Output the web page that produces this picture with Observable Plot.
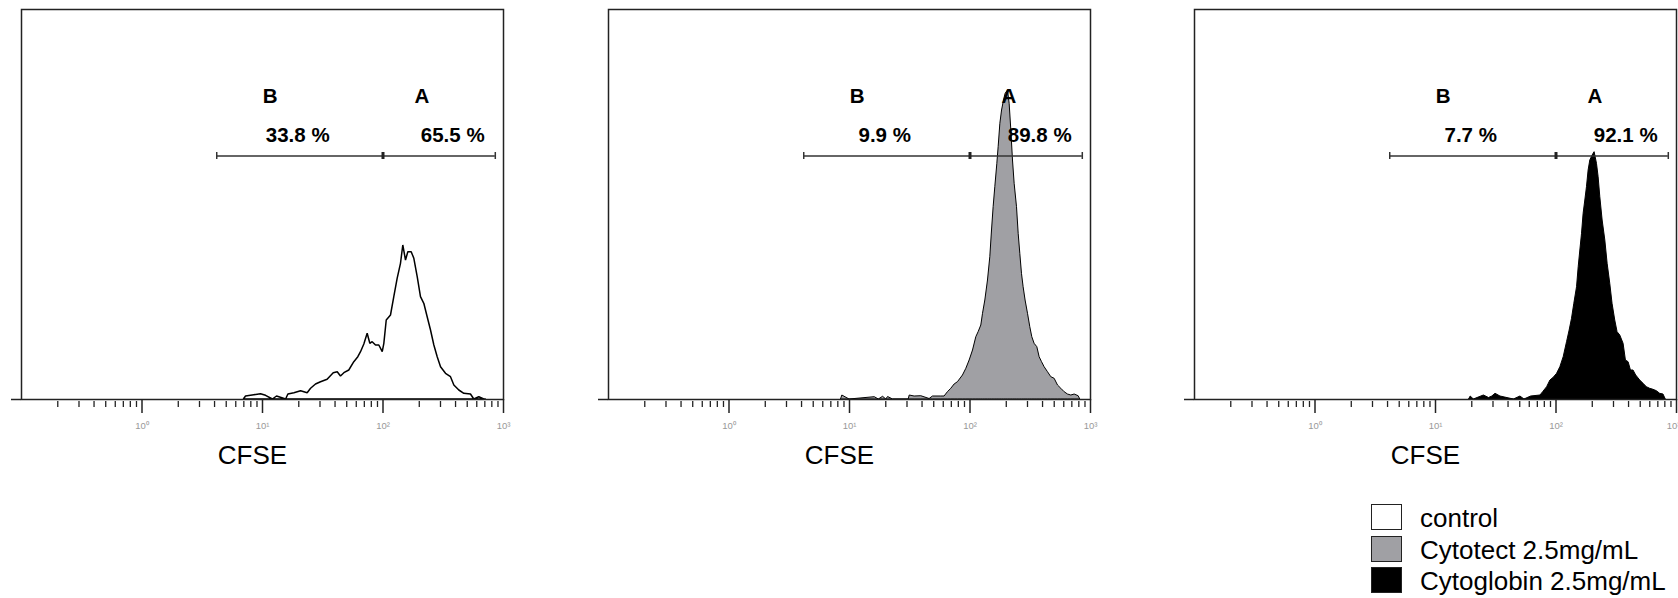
<!DOCTYPE html>
<html>
<head>
<meta charset="utf-8">
<script src="https://cdn.jsdelivr.net/npm/d3@7"></script>
<script src="https://cdn.jsdelivr.net/npm/@observablehq/plot@0.6"></script>
<style>
  html, body { margin: 0; padding: 0; background: #fff; overflow: hidden; }
  body { font-family: "Liberation Sans", Arial, sans-serif; }
  #wrap { position: relative; width: 1678px; height: 598px; }
  .panel { position: absolute; top: 0; overflow: visible; }
  .legend-row { position: absolute; left: 1371px; height: 26px; display: flex; align-items: flex-start; }
  .legend-box { width: 31px; height: 26px; box-sizing: border-box; border: 1.5px solid #222; }
  .legend-text { margin-left: 18px; font-size: 26px; line-height: 26px; margin-top: 1px; color: #000; white-space: nowrap; }
</style>
</head>
<body>
<div id="wrap"></div>
<script>
// ---------- data ----------
const samples = ["control", "Cytotect 2.5mg/mL", "Cytoglobin 2.5mg/mL"];
const fills = ["#ffffff", "#a0a0a4", "#000000"];
const pctB = [33.8, 9.9, 7.7];
const pctA = [65.5, 89.8, 92.1];
const gateBounds = [4.17, 100, 855];
const majorTicks = [1, 10, 100, 1000];
const minorTicks = [0.2,0.3,0.4,0.5,0.6,0.7,0.8,0.9, 2,3,4,5,6,7,8,9, 20,30,40,50,60,70,80,90, 200,300,400,500,600,700,800,900];
const axisTitle = "CFSE";

// control histogram (CFSE intensity, relative count)
const controlCfse = [7.0,7.3,8.55,9.72,10.7,12.2,13.2,15.7,16.4,18.4,20.9,23.7,25.3,27.8,30.6,34.7,39.0,42.1,44.8,47.8,52.5,57.8,62.4,65.7,70.0,74.6,78.5,82.1,87.5,93.2,99.5,102.6,107.4,116.5,124.1,132.3,141.0,147.4,155.2,162.3,173.0,182.0,194.1,206.6,220.2,234.8,250.3,266.8,284.4,303.1,333.3,366.7,390.9,429.9,473.0,537.0,572.4,629.7,693,720];
const controlCount = [0,3.0,4.3,5.3,3.7,0,3,0,5,6.3,8.3,6.3,10.7,15,17.3,19.7,26.3,27.3,23,26.3,29,37.3,42.3,47.3,55,65.7,55.7,57.3,54,54,47.3,55.7,79,84,102.3,120.7,135.7,154,139,147.3,147.3,140.7,122.3,102.3,95.7,82.3,69,54,42.3,32.3,25.7,22.3,14,9,5.7,5,0,2.3,0,0];

// Cytotect histogram
const cytotectCfse = [8.5,8.72,10.0,16.2,17.5,19.0,20.2,20.9,23.0,31.0,31.6,34.7,39.4,46.2,49.3,57.8,61.5,65.6,69.9,74.5,79.4,87.4,93.2,99.3,105.9,112.8,117.9,124.1,128.2,134.0,141.0,147.4,152.3,157.1,162.2,168.6,172.9,178.6,184.5,191.5,197.6,206.7,213.3,220.3,227.4,234.7,245.5,253.5,261.5,270.0,278.6,289.3,303.0,316.5,328.8,343.6,362.0,378.3,396.0,416.0,443.7,472.9,504.0,537.4,572.6,610.0,650.0,693.0,738.8,796.8,822.5];
const cytotectCount = [0,4,0,2.3,0,2.7,0,2.5,0,0,4,3,3.3,0.5,3,3,3,7.3,10.7,15,17.3,24,30.7,39,49,62.3,67.3,74,85.7,99,119,142.3,169,192.3,212.3,235.7,252.3,275.7,289,299,305.7,309,295.7,269,239,215.7,192.3,165.7,145.7,125.7,112.3,99,85.7,72.3,62.3,55.7,52.3,42.3,37.3,32.3,27.3,22.3,20.7,14,10.7,7.3,5,4,5,3.3,0];

// Cytoglobin histogram
const cytoglobinCfse = [19.0,19.6,20.8,25.2,27.8,29.6,31.5,34.6,44.7,50.7,54.7,62.2,74.3,78.2,84.4,89.9,95.7,102.1,108.7,115.8,123.5,129.8,135.8,141.9,149.5,154.3,159.2,164.4,169.5,175.1,180.7,186.5,192.6,201.4,209.1,218.8,225.8,233.2,243.8,256.6,268.2,282.0,294.6,310.2,324.3,341.4,363.8,380.4,400.3,418.7,439.8,463.0,500.0,532.5,567.5,604.6,644.0,686.7,731.6,779.7,815];
const cytoglobinCount = [0,3,0,4,1.5,3,5.7,3,0,3,0,3,4,7.3,12.3,19,21.7,25.7,32.3,42.3,57.3,69,80.7,95.7,112.3,132.3,149,165.7,185.7,199,212.3,229,239,244,247.3,235.7,222.3,202.3,179,159,135.7,115.7,95.7,79,67.3,64,55.7,39,37.3,29,29,24,19,15.7,12.3,10.7,9.7,8.3,5.7,5,0];

// ---------- layout / style ----------
const FONT = '"Liberation Sans", Arial, sans-serif';
const series = [
  {xs: controlCfse, ys: controlCount, sw: 1.5},
  {xs: cytotectCfse, ys: cytotectCount, sw: 1},
  {xs: cytoglobinCfse, ys: cytoglobinCount, sw: 1}
];
const panelLeft = [0, 587, 1173];
const yMax = 390;
const gateY = 243.5, letterY = 296.3, pctY = 257.3;
const letterBX = 11.6, letterAX = 210, pctBX = 19.6, pctAX = 379, titleX = 8.26;
const sup = {0: "\u2070", 1: "\u00B9", 2: "\u00B2", 3: "\u00B3"};
const fmt = d => "10" + sup[Math.round(Math.log10(d))];

const wrap = document.getElementById("wrap");

series.forEach((s, i) => {
  const data = s.xs.map((x, j) => ({x, y: s.ys[j]}));
  const last = i === series.length - 1;
  const labelTicks = last ? majorTicks.slice(0, -1) : majorTicks;
  const labelStyle = {tickSize: 14, tickPadding: 9, stroke: "none", fill: "#999", fontSize: 9.5, tickFormat: fmt, label: null};
  const chart = Plot.plot({
    width: 515,
    height: 475,
    marginLeft: 21,
    marginRight: 12,
    marginTop: 9,
    marginBottom: 76,
    x: {type: "log", domain: [0.1, 1000]},
    y: {domain: [0, yMax]},
    style: {fontFamily: FONT, background: "transparent", overflow: "visible"},
    marks: [
      Plot.areaY(data, {x: "x", y: "y", curve: "linear", fill: fills[i], stroke: "#000", strokeWidth: s.sw, strokeLinejoin: "miter"}),
      Plot.frame({stroke: "#222", strokeWidth: 1.5}),
      Plot.axisX({ticks: minorTicks, tickSize: 6, dy: 2, fill: "none", stroke: "#222", strokeWidth: 1.3, label: null}),
      Plot.axisX({ticks: majorTicks, tickSize: 14, fill: "none", stroke: "#222", strokeWidth: 1.5, label: null}),
      Plot.axisX({ticks: labelTicks, ...labelStyle}),
      last ? Plot.axisX({ticks: majorTicks.slice(-1), ...labelStyle, textAnchor: "end", dx: 4}) : null,
      Plot.axisY({ticks: [0], tickSize: 10, fill: "none", stroke: "#222", strokeWidth: 1.5, label: null}),
      Plot.ruleY([gateY], {x1: gateBounds[0], x2: gateBounds[2], stroke: "#333", strokeWidth: 1.5}),
      Plot.ruleX([gateBounds[0], gateBounds[2]], {y1: gateY - 3.5, y2: gateY + 3.5, stroke: "#333", strokeWidth: 1.5}),
      Plot.ruleX([gateBounds[1]], {y1: gateY - 3.5, y2: gateY + 3.5, stroke: "#222", strokeWidth: 3}),
      Plot.text([{t: "B", x: letterBX}, {t: "A", x: letterAX}], {x: "x", y: letterY, text: "t", lineAnchor: "bottom", fontSize: 20.5, fontWeight: "bold", fill: "#000"}),
      Plot.text([{t: pctB[i].toFixed(1) + " %", x: pctBX}, {t: pctA[i].toFixed(1) + " %", x: pctAX}], {x: "x", y: pctY, text: "t", lineAnchor: "bottom", fontSize: 20.5, fontWeight: "bold", fill: "#000"}),
      Plot.text([{t: axisTitle, x: titleX}], {x: "x", frameAnchor: "bottom", dy: 64, text: "t", lineAnchor: "bottom", fontSize: 26, fill: "#000"})
    ]
  });
  chart.classList.add("panel");
  chart.style.left = panelLeft[i] + "px";
  wrap.appendChild(chart);
});

// legend
const legendTop = [504, 536, 567];
samples.forEach((name, i) => {
  const row = d3.select(wrap).append("div").attr("class", "legend-row").style("top", legendTop[i] + "px");
  row.append("div").attr("class", "legend-box").style("background", fills[i]);
  row.append("div").attr("class", "legend-text").text(name);
});
</script>
</body>
</html>
